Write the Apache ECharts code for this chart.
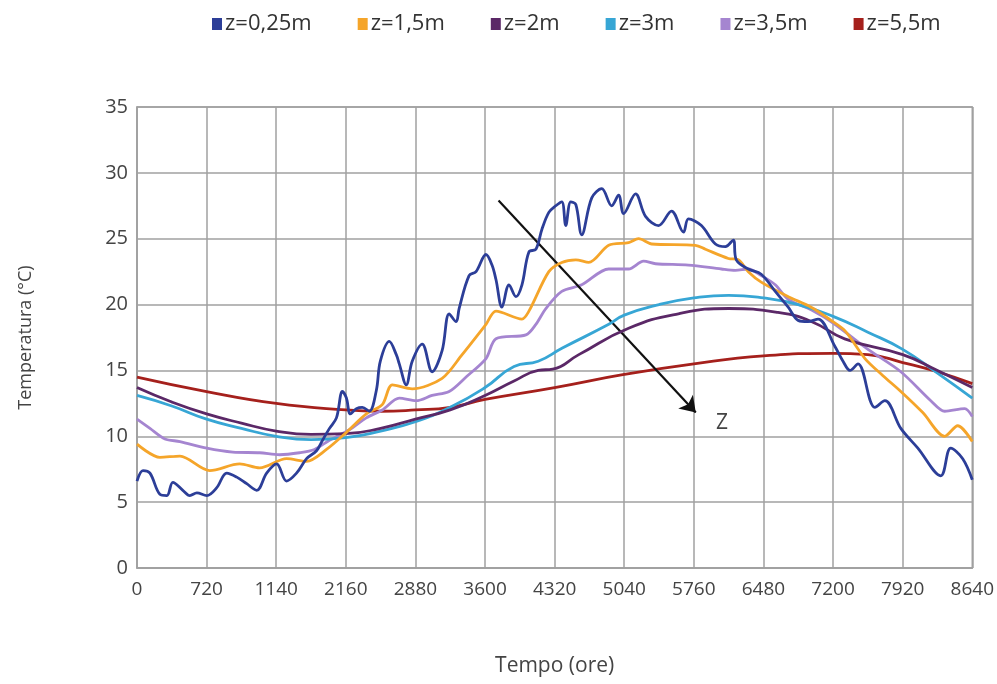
<!DOCTYPE html>
<html>
<head>
<meta charset="utf-8">
<script src="https://cdn.jsdelivr.net/npm/echarts@6/dist/echarts.min.js"></script>
<style>
html,body{margin:0;padding:0;background:#fff;}
#chart{width:997px;height:684px;}
</style>
</head>
<body>
<div id="chart"></div>
<script>
// ---- data (hours, °C) ----
var xTickLabels = ['0','720','1140','2160','2880','3600','4320','5040','5760','6480','7200','7920','8640'];
var seriesNames = ['z=0,25m','z=1,5m','z=2m','z=3m','z=3,5m','z=5,5m'];

var z025Hours = [0,62,134,237,309,371,474,547,619,722,825,928,1032,1135,1238,1341,1444,1547,1650,1754,1857,1919,1991,2063,2125,2166,2207,2269,2331,2403,2476,2517,2610,2682,2713,2785,2847,2950,3053,3156,3229,3301,3332,3435,3507,3610,3672,3713,3775,3848,3920,3982,4054,4126,4188,4260,4332,4394,4435,4487,4539,4600,4704,4807,4910,4982,5034,5157,5260,5395,5529,5653,5704,5838,5983,6086,6168,6199,6323,6457,6602,6736,6839,6942,7045,7221,7303,7375,7458,7633,7736,7901,8077,8314,8417,8541,8640];
var z025Temps = [6.6,7.4,7.2,5.6,5.5,6.5,5.9,5.5,5.7,5.5,6.1,7.2,6.9,6.4,5.9,7.2,7.9,6.6,7.2,8.3,8.9,9.7,10.6,11.4,13.4,12.9,11.7,12.1,12.2,11.9,13.5,15.7,17.2,16.2,15.5,13.9,15.7,17.0,14.9,16.5,19.3,18.7,19.7,22.2,22.5,23.8,23.0,21.9,19.8,21.5,20.6,21.5,24.0,24.2,25.7,27.0,27.5,27.8,26.0,27.8,27.6,25.3,28.1,28.8,27.5,28.3,26.9,28.4,26.7,26.0,27.1,25.5,26.5,26.0,24.6,24.4,24.9,23.4,22.7,22.3,21.0,19.8,18.8,18.7,18.9,16.8,15.7,15.0,15.5,12.2,12.7,10.6,9.1,7.0,9.1,8.3,6.7];

var z15Hours = [0,237,444,753,1062,1269,1547,1754,1960,2166,2372,2537,2641,2847,3156,3363,3610,3713,3982,4054,4260,4394,4539,4673,4879,5085,5188,5323,5776,5880,6117,6220,6323,6457,6736,6973,7179,7324,7530,7716,7901,8128,8355,8489,8640];
var z15Temps = [9.4,8.4,8.5,7.4,7.9,7.6,8.3,8.1,9.0,10.3,11.7,12.4,13.9,13.6,14.4,16.2,18.5,19.5,18.9,19.5,22.5,23.2,23.4,23.2,24.5,24.7,25.0,24.6,24.5,24.2,23.5,23.4,22.5,21.7,20.6,19.8,18.8,18.0,15.9,14.6,13.4,11.8,10.0,10.8,9.6];

var z2Hours = [0,360,720,1080,1440,1800,2160,2520,2880,3240,3600,3900,4150,4300,4570,5085,5600,6120,6630,6980,7320,7920,8280,8640];
var z2Temps = [13.7,12.6,11.7,11.0,10.4,10.15,10.2,10.6,11.3,12.0,13.1,14.2,15.0,15.1,16.2,18.2,19.3,19.7,19.4,18.7,17.4,16.2,15.0,13.7];

var z3Hours = [0,360,720,1080,1440,1800,2160,2520,2880,3240,3600,3900,4150,4400,4880,5040,5400,5760,6120,6480,6840,7200,7560,7920,8280,8640];
var z3Temps = [13.1,12.3,11.3,10.6,10.0,9.75,9.9,10.4,11.1,12.2,13.7,15.3,15.7,16.7,18.5,19.2,20.0,20.5,20.7,20.5,20.0,19.1,17.9,16.6,14.8,12.9];

var z35Hours = [0,134,289,444,722,990,1269,1475,1681,1836,1991,2197,2372,2537,2713,2888,3053,3229,3404,3610,3713,4023,4126,4229,4394,4600,4879,5085,5240,5364,5704,6045,6189,6323,6457,6602,6736,6973,7200,7561,7901,8211,8355,8562,8640];
var z35Temps = [11.3,10.6,9.8,9.6,9.1,8.8,8.75,8.6,8.75,9.0,9.7,10.5,11.4,12.0,12.9,12.7,13.1,13.4,14.5,15.9,17.4,17.7,18.5,19.7,21.0,21.5,22.7,22.7,23.3,23.1,23.0,22.7,22.6,22.7,22.2,21.5,20.4,19.6,18.6,16.6,14.9,12.7,11.9,12.1,11.5];

var z55Hours = [0,720,1440,2160,2520,2880,3240,3600,4320,5040,5760,6480,7200,7560,7920,8280,8640];
var z55Temps = [14.5,13.4,12.5,12.0,11.9,12.0,12.2,12.8,13.7,14.7,15.5,16.1,16.3,16.2,15.6,14.9,14.0];

// annotation arrow (data coordinates)
var arrowStart = [3740, 27.9];
var arrowEnd = [5780, 11.8];
var arrowLabelPos = [6050, 11.0];

function pairs(h, t) { return h.map(function (v, i) { return [v, t[i]]; }); }

var colors = ['#2c3e98', '#f5a52a', '#5b2867', '#37a6d5', '#a585d0', '#a5201c'];
var allHours = [z025Hours, z15Hours, z2Hours, z3Hours, z35Hours, z55Hours];
var allTemps = [z025Temps, z15Temps, z2Temps, z3Temps, z35Temps, z55Temps];
var smoothing = [0.35, 0.3, true, true, 0.3, true];

var series = seriesNames.map(function (n, i) {
  return {
    name: n,
    type: 'line',
    data: pairs(allHours[i], allTemps[i]),
    showSymbol: false,
    smooth: smoothing[i],
    lineStyle: { width: 2.8, color: colors[i] },
    itemStyle: { color: colors[i] },
    z: 3 + (5 - i)
  };
});

// arrow annotation
series.push({
  name: 'arrow',
  type: 'line',
  data: [],
  silent: true,
  markLine: {
    silent: true,
    animation: false,
    symbol: ['none', 'arrow'],
    symbolSize: 15,
    lineStyle: { color: '#111', width: 2.2, type: 'solid' },
    label: { show: false },
    data: [[{ coord: arrowStart }, { coord: arrowEnd }]]
  },
  markPoint: {
    silent: true,
    symbol: 'circle',
    symbolSize: 0,
    label: { show: true, formatter: 'Z', color: '#444', fontSize: 21, fontFamily: 'Open Sans' },
    data: [{ coord: arrowLabelPos }]
  }
});

var chart = echarts.init(document.getElementById('chart'), null, { renderer: 'canvas' });
var font = 'Open Sans';
chart.setOption({
  animation: false,
  backgroundColor: '#ffffff',
  color: colors,
  legend: {
    data: seriesNames,
    top: 8,
    left: 207,
    icon: 'rect',
    itemWidth: 10,
    itemHeight: 12,
    itemGap: 46,
    textStyle: { fontSize: 22, color: '#333', fontFamily: font, padding: [0, 0, 0, -2] }
  },
  grid: { left: 137, right: 22, top: 107, bottom: 116, show: true, borderColor: '#a0a0a0', borderWidth: 1.5 },
  xAxis: {
    type: 'value',
    min: 0,
    max: 8640,
    interval: 720,
    name: 'Tempo (ore)',
    nameLocation: 'middle',
    nameGap: 88,
    nameTextStyle: { fontSize: 21, color: '#444', fontFamily: font },
    axisLine: { show: true, lineStyle: { color: '#a0a0a0', width: 1.5 } },
    axisTick: { show: false },
    axisLabel: {
      fontSize: 19, color: '#444', fontFamily: font, margin: 12,
      formatter: function (v) { return xTickLabels[Math.round(v / 720)]; }
    },
    splitLine: { show: true, lineStyle: { color: '#a0a0a0', width: 1.5 } }
  },
  yAxis: {
    type: 'value',
    min: 0,
    max: 35,
    interval: 5,
    name: 'Temperatura (°C)',
    nameLocation: 'middle',
    nameGap: 102,
    nameTextStyle: { fontSize: 18, color: '#444', fontFamily: font },
    axisLine: { show: true, lineStyle: { color: '#a0a0a0', width: 1.5 } },
    axisTick: { show: false },
    axisLabel: { fontSize: 20, color: '#444', fontFamily: font, margin: 9 },
    splitLine: { show: true, lineStyle: { color: '#a0a0a0', width: 1.5 } }
  },
  series: series
});
</script>
</body>
</html>
